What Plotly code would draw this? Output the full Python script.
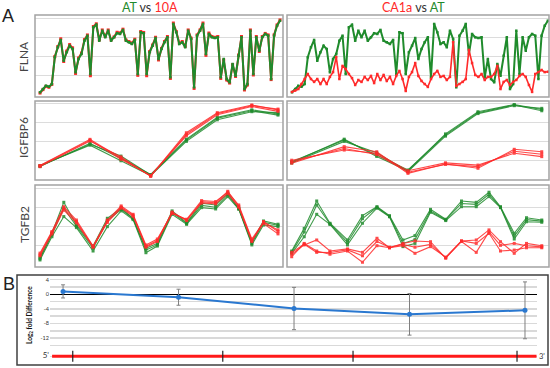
import plotly.graph_objects as go

W, H = 550, 368
GREEN = "#1f8b2c"
RED = "#ff2a2a"
FONT = "Lato"

# ---------------- DATA ----------------
# FLNA probe index (uniform)
FLNA_AT = [0.14,0.31,0.48,0.43,0.57,1.96,2.48,2.86,1.78,2.22,
           2.56,2.39,1.18,1.87,2.13,2.82,3.08,1.09,3.52,3.65,
           2.82,3.34,3.0,3.34,2.82,3.0,3.21,3.17,3.38,2.82,
           2.74,2.65,2.86,1.09,3.26,3.21,1.09,2.22,2.56,2.96,
           1.87,2.39,2.74,3.0,0.92,3.69,3.26,2.65,2.74,2.48,
           3.34,2.91,0.40,3.08,3.34,3.69,2.13,3.17,3.0,2.96,
           3.0,0.92,1.87,0.83,0.66,1.61,1.0,2.04,3.0,0.31,
           0.57,3.34,1.09,3.0,2.30,3.0,3.17,3.08,0.83,3.08,
           3.6,3.86]
FLNA_10A = [0.10,0.28,0.45,0.40,0.55,2.00,2.52,2.92,1.74,2.28,
            2.62,2.45,1.12,1.92,2.18,2.88,3.12,1.00,3.56,3.70,
            2.86,3.38,3.04,3.38,2.86,3.02,3.26,3.22,3.42,2.86,
            2.78,2.70,2.90,1.02,3.30,3.25,1.00,2.26,2.60,3.00,
            1.82,2.42,2.78,3.04,0.86,3.74,3.30,2.70,2.78,2.52,
            3.38,2.95,0.34,3.12,3.38,3.74,2.06,3.22,3.04,3.00,
            3.04,0.86,1.82,0.78,0.62,1.58,0.96,2.08,3.04,0.26,
            0.52,3.38,1.04,3.04,2.26,3.04,3.20,3.12,0.80,3.12,
            3.64,3.90]
FLNA_CA1A = [0.16,0.23,0.31,0.57,0.83,1.09,0.83,0.68,0.83,0.57,
             0.83,0.57,0.94,1.19,1.97,0.83,1.51,1.35,1.09,0.88,
             0.52,0.78,0.68,0.94,0.78,0.99,0.62,1.09,0.78,1.04,
             0.73,0.94,0.57,0.99,1.25,0.83,0.21,0.94,1.19,1.66,
             0.99,0.73,0.57,0.42,0.83,1.09,1.25,0.94,0.99,0.78,
             0.94,2.75,0.47,0.57,0.68,0.83,2.34,1.66,1.04,0.94,
             1.09,0.78,0.94,0.94,1.09,1.51,0.31,0.68,0.78,0.52,
             0.68,0.78,0.99,1.09,0.94,0.52,0.16,1.09,1.19,1.30,
             1.19,1.21]
FLNA_IDX = list(range(len(FLNA_AT)))

IGFBP6_POS = [0, 21, 34, 46.5, 61.5, 74.5, 89, 100]
IGFBP6_AT_L = [[0.69, 1.85, 1.22, 0.21, 2.07, 3.23, 3.63, 3.40],
               [0.72, 1.80, 0.97, 0.18, 2.00, 3.15, 3.58, 3.53],
               [0.66, 1.90, 1.10, 0.24, 2.12, 3.28, 3.68, 3.46]]
IGFBP6_10A = [[0.72, 2.11, 1.12, 0.16, 2.46, 3.53, 3.94, 3.67],
              [0.66, 2.02, 1.18, 0.14, 2.38, 3.48, 3.90, 3.72],
              [0.70, 2.06, 1.05, 0.19, 2.30, 3.42, 3.86, 3.60]]
IGFBP6_AT_R = [[0.92, 2.07, 1.28, 0.48, 2.34, 3.53, 3.94, 3.63],
               [0.85, 2.00, 1.40, 0.40, 2.28, 3.48, 3.90, 3.76],
               [0.88, 2.12, 1.20, 0.44, 2.40, 3.58, 3.96, 3.70]]
IGFBP6_CA1A = [[0.84, 1.72, 1.45, 0.30, 0.80, 0.57, 1.58, 1.45],
               [1.00, 1.54, 1.37, 0.44, 0.86, 0.74, 1.37, 1.19],
               [0.92, 1.62, 1.30, 0.36, 0.78, 0.66, 1.48, 1.32]]

TGFB2_POS = [0, 5, 10, 15.3, 22.3, 28.3, 34.1, 39.1, 44.5, 49.3,
             55.5, 61.6, 67.9, 73.8, 78.9, 83.5, 89, 93.9, 100]
TGFB2_AT_L = [[0.37,1.63,3.26,2.07,0.96,2.42,2.95,2.42,0.84,1.10,2.81,2.19,3.21,3.12,3.74,2.95,1.19,2.28,2.11],
              [0.23,1.45,2.51,1.93,0.70,1.98,2.81,2.35,0.61,0.96,2.63,2.10,2.98,2.91,3.56,2.90,1.02,2.07,1.98],
              [0.30,1.55,2.95,2.00,0.85,2.30,2.88,2.40,0.75,1.02,2.72,2.15,3.10,3.00,3.66,2.92,1.10,2.20,2.05]]
TGFB2_10A = [[0.59,1.72,3.03,2.33,0.96,2.33,3.07,2.63,1.02,1.33,2.68,2.37,3.35,3.30,3.79,3.12,1.33,2.21,1.81],
             [0.50,1.68,2.95,2.25,0.90,2.28,3.00,2.58,0.95,1.25,2.75,2.30,3.28,3.24,3.84,3.05,1.25,2.15,1.60],
             [0.45,1.60,2.85,2.18,0.92,2.20,2.96,2.52,0.90,1.20,2.70,2.33,3.22,3.18,3.72,3.00,1.20,2.25,1.72]]
TGFB2_AT_R = [[0.70,1.89,3.33,2.16,1.28,2.56,3.03,2.56,1.28,1.51,2.89,2.37,3.33,3.26,3.79,3.03,1.63,2.45,2.33],
              [0.58,1.45,2.63,2.10,1.02,2.16,2.95,2.50,0.93,1.10,2.74,2.30,3.03,3.03,3.56,2.98,1.33,2.24,2.21],
              [0.64,1.70,3.12,2.12,1.15,2.40,3.00,2.52,1.10,1.30,2.80,2.34,3.20,3.15,3.68,3.00,1.48,2.35,2.27]]
TGFB2_CA1A = [[0.53,1.02,1.28,0.70,0.81,0.63,1.37,0.87,1.10,1.23,1.19,0.32,1.23,1.28,1.81,1.19,0.58,1.10,0.98],
              [0.40,1.10,0.70,0.53,0.70,0.11,0.98,0.87,0.98,0.58,0.93,0.38,1.23,1.10,1.63,0.70,0.75,0.87,0.87],
              [0.63,1.06,0.63,0.62,0.76,0.45,1.20,0.90,1.05,0.90,1.05,0.35,1.20,0.63,1.70,1.00,1.10,0.98,0.92]]

# Panel B
B_POS = [1, 2, 3, 4, 5]
B_LOG2FD = [0.8, -0.8, -3.9, -5.5, -4.4]
B_ERR = [1.8, 2.2, 5.8, 5.7, 7.8]
GENE_SPAN = [0.905, 5.1]
GENE_LEVEL = -17
AMPLICON_MARKS = [1.084, 2.383, 3.511, 4.931]
B_TICKVALS = [4, 0, -4, -8, -12, -17]
B_TICKTEXT = ["4", "0", "-4", "-8", "-12", "<span style='font-size:8px'>5'</span>"]

# ---------------- LAYOUT HELPERS ----------------
def fx(p): return p / W
def fy(p): return 1 - p / H

COLX = {"L": (35, 283), "R": (287, 549)}
ROWY = {"FLNA": (15, 97), "IGFBP6": (101, 180), "TGFB2": (185, 267)}
YR = {"FLNA": [-0.104, 4.156], "IGFBP6": [-0.053, 4.15], "TGFB2": [-0.14, 4.17]}
XR = {("FLNA", "L"): [-1.69, 82.01], ("FLNA", "R"): [-1.58, 81.35],
      ("POS", "L"): [-2.1, 102.1], ("POS", "R"): [-1.88, 102.9]}

fig = go.Figure()
layout = dict(width=W, height=H, margin=dict(l=0, r=0, t=0, b=0),
              paper_bgcolor="white", plot_bgcolor="white", showlegend=False)
shapes, annotations = [], []

panels = [("FLNA", "L"), ("FLNA", "R"), ("IGFBP6", "L"), ("IGFBP6", "R"),
          ("TGFB2", "L"), ("TGFB2", "R")]
axid = {}
for i, (g, c) in enumerate(panels, start=1):
    axid[(g, c)] = i
    xk = "xaxis" if i == 1 else f"xaxis{i}"
    yk = "yaxis" if i == 1 else f"yaxis{i}"
    xr = XR[("FLNA", c)] if g == "FLNA" else XR[("POS", c)]
    layout[xk] = dict(domain=[fx(COLX[c][0]), fx(COLX[c][1])], range=xr,
                      showgrid=False, zeroline=False, showticklabels=False,
                      ticks="", showline=False, anchor=f"y{i}" if i > 1 else "y")
    layout[yk] = dict(domain=[fy(ROWY[g][1]), fy(ROWY[g][0])], range=YR[g],
                      tickvals=[1, 2, 3, 4], showgrid=True, gridcolor="#dcdcdc",
                      gridwidth=1, zeroline=False, showticklabels=False,
                      ticks="", showline=False, anchor=f"x{i}" if i > 1 else "x")
    shapes.append(dict(type="rect", xref="paper", yref="paper",
                       x0=fx(COLX[c][0]), x1=fx(COLX[c][1]),
                       y0=fy(ROWY[g][1]), y1=fy(ROWY[g][0]),
                       line=dict(color="#a3a3a3", width=1.5), layer="above"))

def ax(i):
    return ("x" if i == 1 else f"x{i}"), ("y" if i == 1 else f"y{i}")

def add_line(i, x, y, color, width=1.5, msize=2.5, opacity=1.0):
    xa, ya = ax(i)
    fig.add_trace(go.Scatter(x=x, y=y, xaxis=xa, yaxis=ya, mode="lines+markers",
                             line=dict(color=color, width=width),
                             marker=dict(color=color, size=msize, symbol="square"),
                             opacity=opacity, hoverinfo="skip"))

# FLNA
add_line(axid[("FLNA", "L")], FLNA_IDX, FLNA_10A, RED, 2.0, 3)
add_line(axid[("FLNA", "L")], FLNA_IDX, FLNA_AT, GREEN, 2.0, 2.5)
add_line(axid[("FLNA", "R")], FLNA_IDX, FLNA_AT, GREEN, 2.0, 2.5)
add_line(axid[("FLNA", "R")], FLNA_IDX, FLNA_CA1A, RED, 1.6, 2.5)

# IGFBP6
for s in IGFBP6_AT_L:
    add_line(axid[("IGFBP6", "L")], IGFBP6_POS, s, GREEN, 1.1, 3, 0.85)
for s in IGFBP6_10A:
    add_line(axid[("IGFBP6", "L")], IGFBP6_POS, s, RED, 1.1, 3, 0.85)
for s in IGFBP6_AT_R:
    add_line(axid[("IGFBP6", "R")], IGFBP6_POS, s, GREEN, 1.1, 3, 0.85)
for s in IGFBP6_CA1A:
    add_line(axid[("IGFBP6", "R")], IGFBP6_POS, s, RED, 1.1, 3, 0.85)

# TGFB2
for s in TGFB2_AT_L:
    add_line(axid[("TGFB2", "L")], TGFB2_POS, s, GREEN, 1.1, 3, 0.85)
for s in TGFB2_10A:
    add_line(axid[("TGFB2", "L")], TGFB2_POS, s, RED, 1.1, 3, 0.85)
for s in TGFB2_AT_R:
    add_line(axid[("TGFB2", "R")], TGFB2_POS, s, GREEN, 1.1, 3, 0.85)
for s in TGFB2_CA1A:
    add_line(axid[("TGFB2", "R")], TGFB2_POS, s, RED, 1.1, 3, 0.85)

# ---------------- PANEL B ----------------
layout["xaxis7"] = dict(domain=[fx(50), fx(537)], range=[0.887, 5.104],
                        showgrid=False, zeroline=False, showticklabels=False,
                        ticks="", showline=False, anchor="y7")
layout["yaxis7"] = dict(domain=[fy(365), fy(275)], range=[-19.4, 5.3],
                        tickvals=B_TICKVALS, ticktext=B_TICKTEXT,
                        tickfont=dict(family=FONT, size=5.5, color="#333"),
                        showgrid=True, gridcolor="#d9d9d9", gridwidth=1.5,
                        minor=dict(tickvals=[2, -2, -6, -10, -14], showgrid=True,
                                   gridcolor="#d9d9d9", gridwidth=1.5),
                        zeroline=True, zerolinecolor="black", zerolinewidth=1.5,
                        ticks="", showline=False, anchor="x7")
fig.add_trace(go.Scatter(x=GENE_SPAN, y=[GENE_LEVEL] * 2, xaxis="x7", yaxis="y7",
                         mode="lines", line=dict(color="#ff1a1a", width=3),
                         hoverinfo="skip"))
fig.add_trace(go.Scatter(x=AMPLICON_MARKS, y=[GENE_LEVEL] * len(AMPLICON_MARKS),
                         xaxis="x7", yaxis="y7", mode="markers",
                         marker=dict(symbol="line-ns", size=8,
                                     line=dict(color="#222", width=1.2)),
                         hoverinfo="skip"))
fig.add_trace(go.Scatter(x=B_POS, y=B_LOG2FD, xaxis="x7", yaxis="y7",
                         mode="lines+markers",
                         line=dict(color="#2a78d0", width=2),
                         marker=dict(color="#2a78d0", size=5),
                         error_y=dict(type="data", array=B_ERR, visible=True,
                                      color="#7f7f7f", thickness=1, width=2),
                         hoverinfo="skip"))
shapes.append(dict(type="rect", xref="paper", yref="paper",
                   x0=fx(17), x1=fx(548), y0=fy(365), y1=fy(275),
                   line=dict(color="#404040", width=1.5), layer="above"))

# ---------------- TEXT ----------------
def ann(text, x, y, size, color="#333", angle=0, xanchor="center", family=FONT):
    annotations.append(dict(text=text, x=fx(x), y=fy(y), xref="paper", yref="paper",
                            showarrow=False, textangle=angle, xanchor=xanchor,
                            yanchor="middle",
                            font=dict(family=family, size=size, color=color)))

ann("A", 8, 16, 18, "#222", family="Liberation Sans")
ann("B", 9, 284, 18, "#222", family="Liberation Sans")
ann(f"<span style='color:{GREEN}'>AT</span> vs <span style='color:{RED}'>10A</span>",
    150, 8, 12.5, "#333")
ann(f"<span style='color:{RED}'>CA1a</span> vs <span style='color:{GREEN}'>AT</span>",
    413, 8, 12.5, "#333")
ann("FLNA", 24, 57, 12, "#444", angle=-90)
ann("IGFBP6", 23, 138, 12, "#444", angle=-90)
ann("TGFB2", 24, 225, 12, "#444", angle=-90)
ann("<b>Log<sub>2</sub> fold Difference</b>", 29, 315, 6.5, "#111", angle=-90)
ann("3'", 542, 356, 7.5, "#333")

layout["shapes"] = shapes
layout["annotations"] = annotations
fig.update_layout(**layout)
fig.write_html("out.html",
               config={"displayModeBar": False, "staticPlot": True},
               post_script="document.body.style.margin='0px';"
                           "document.body.style.overflow='hidden';")
